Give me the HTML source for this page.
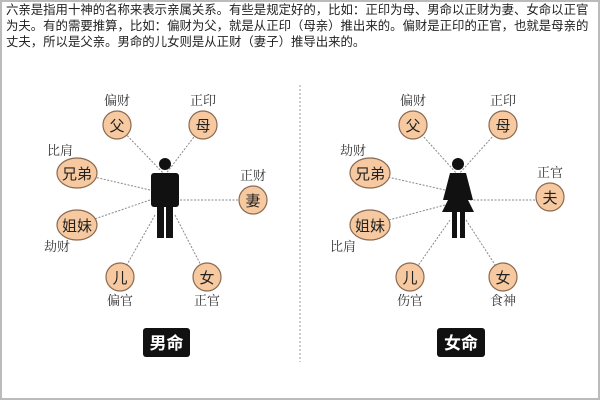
<!DOCTYPE html>
<html><head><meta charset="utf-8"><style>
body{margin:0;width:600px;height:400px;background:#fff;overflow:hidden;font-family:"Liberation Sans","Noto Sans CJK SC",sans-serif}
.frame{position:absolute;left:0;top:0;width:596px;height:396px;border:2px solid #bbb}
.txt{position:absolute;left:6px;top:2px;width:590px;font-size:12.4px;line-height:16px;color:#222;white-space:nowrap}
</style></head><body>
<div class="frame"></div>
<div class="txt">六亲是指用十神的名称来表示亲属关系。有些是规定好的，比如：正印为母、男命以正财为妻、女命以正官<br>为夫。有的需要推算，比如：偏财为父，就是从正印（母亲）推出来的。偏财是正印的正官，也就是母亲的<br>丈夫，所以是父亲。男命的儿女则是从正财（妻子）推导出来的。</div>
<svg width="600" height="400" style="position:absolute;left:0;top:0" font-family="'Noto Serif CJK SC','Noto Sans CJK SC',serif">
<line x1="300" y1="85" x2="300" y2="362" stroke="#999" stroke-dasharray="2,2"/>
<g stroke="#888" stroke-width="1" stroke-dasharray="2,1.5">
<line x1="165" y1="175" x2="117" y2="125"/><line x1="165" y1="175" x2="203" y2="125"/>
<line x1="150" y1="190" x2="77" y2="173"/><line x1="150" y1="200" x2="77" y2="225"/>
<line x1="180" y1="200" x2="253" y2="200"/><line x1="155" y1="215" x2="120" y2="277"/>
<line x1="175" y1="215" x2="207" y2="277"/>
<line x1="458" y1="175" x2="413" y2="125"/><line x1="458" y1="175" x2="503" y2="125"/>
<line x1="445" y1="190" x2="370" y2="173"/><line x1="445" y1="205" x2="370" y2="225"/>
<line x1="470" y1="200" x2="550" y2="200"/><line x1="450" y1="220" x2="410" y2="277"/>
<line x1="466" y1="220" x2="503" y2="277"/>
</g>
<g fill="#f6c9a0" stroke="#8a6a50" stroke-width="1.2">
<circle cx="117" cy="125" r="14"/><circle cx="203" cy="125" r="14"/>
<ellipse cx="77" cy="173" rx="20" ry="15"/><ellipse cx="77" cy="225" rx="20" ry="15"/>
<circle cx="253" cy="200" r="14"/><circle cx="120" cy="277" r="14"/><circle cx="207" cy="277" r="14"/>
<circle cx="413" cy="125" r="14"/><circle cx="503" cy="125" r="14"/>
<ellipse cx="370" cy="173" rx="20" ry="15"/><ellipse cx="370" cy="225" rx="20" ry="15"/>
<circle cx="550" cy="197" r="14"/><circle cx="410" cy="277" r="14"/><circle cx="503" cy="277" r="14"/>
</g>
<g font-size="15" fill="#222" text-anchor="middle" font-family="'Noto Sans CJK SC',sans-serif">
<text x="117" y="131">父</text><text x="203" y="131">母</text><text x="77" y="179">兄弟</text><text x="77" y="231">姐妹</text>
<text x="253" y="206">妻</text><text x="120" y="283">儿</text><text x="207" y="283">女</text>
<text x="413" y="131">父</text><text x="503" y="131">母</text><text x="370" y="179">兄弟</text><text x="370" y="231">姐妹</text>
<text x="550" y="203">夫</text><text x="410" y="283">儿</text><text x="503" y="283">女</text>
</g>
<g font-size="13" fill="#333" text-anchor="middle">
<text x="117" y="105">偏财</text><text x="203" y="105">正印</text><text x="60" y="155">比肩</text><text x="253" y="180">正财</text>
<text x="57" y="251">劫财</text><text x="120" y="305">偏官</text><text x="207" y="305">正官</text>
<text x="413" y="105">偏财</text><text x="503" y="105">正印</text><text x="353" y="155">劫财</text><text x="550" y="177">正官</text>
<text x="343" y="251">比肩</text><text x="410" y="305">伤官</text><text x="503" y="305">食神</text>
</g>
<g fill="#111">
<circle cx="165" cy="164" r="6"/>
<rect x="151" y="173" width="28" height="34" rx="3"/>
<rect x="157" y="200" width="7" height="38"/><rect x="166" y="200" width="7" height="38"/>
</g>
<g fill="#111">
<circle cx="458" cy="164" r="6"/>
<path d="M450 173 H466 L473 200 H468 L474 212 H442 L448 200 H443 Z"/>
<rect x="452" y="210" width="5" height="28"/><rect x="460" y="210" width="5" height="28"/>
</g>
<rect x="143" y="328" width="47" height="29" rx="3" fill="#111"/>
<rect x="437" y="328" width="48" height="29" rx="3" fill="#111"/>
<g font-size="17" font-weight="bold" fill="#fff" text-anchor="middle" font-family="'Noto Sans CJK SC',sans-serif">
<text x="166.5" y="349">男命</text><text x="461" y="349">女命</text>
</g>
</svg>
</body></html>
